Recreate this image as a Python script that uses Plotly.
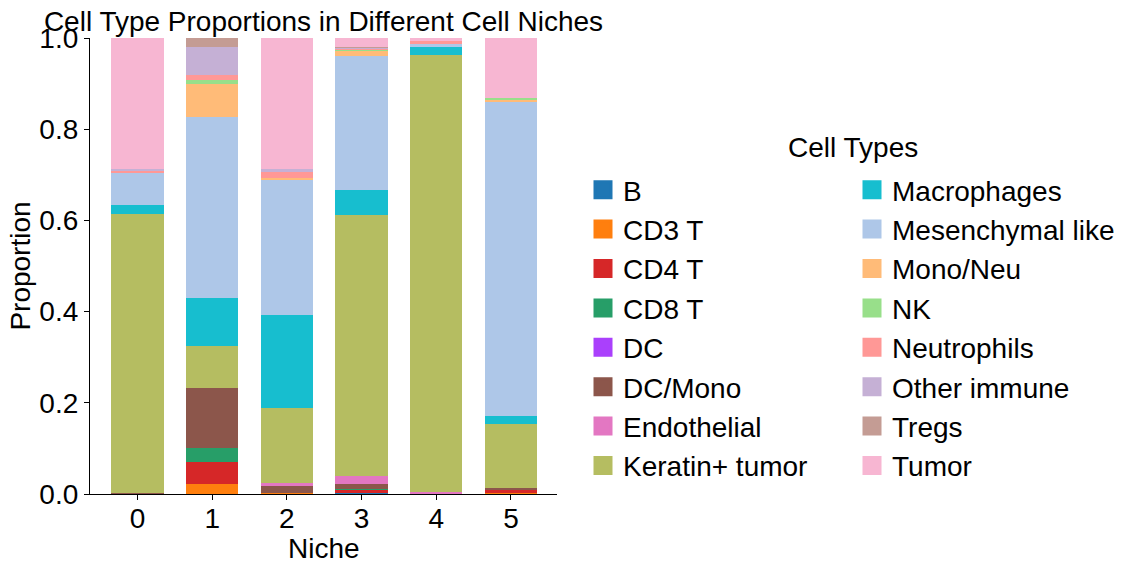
import plotly.graph_objects as go

niches = ["0", "1", "2", "3", "4", "5"]
cell_types = ["B", "CD3 T", "CD4 T", "CD8 T", "DC", "DC/Mono", "Endothelial",
              "Keratin+ tumor", "Macrophages", "Mesenchymal like", "Mono/Neu",
              "NK", "Neutrophils", "Other immune", "Tregs", "Tumor"]
colors = ["#1f77b4", "#ff7f0e", "#d62728", "#279e68", "#aa40fc", "#8c564b",
          "#e377c2", "#b5bd61", "#17becf", "#aec7e8", "#ffbb78", "#98df8a",
          "#ff9896", "#c5b0d5", "#c49c94", "#f7b6d2"]

B = [0.0, 0.0, 0.0, 0.002, 0.0, 0.0]
CD3_T = [0.0, 0.022, 0.002, 0.0, 0.0, 0.003]
CD4_T = [0.0, 0.048, 0.0, 0.007, 0.002, 0.007]
CD8_T = [0.0, 0.031, 0.0, 0.003, 0.0, 0.0]
DC = [0.0, 0.0, 0.0, 0.0, 0.0, 0.0]
DC_Mono = [0.003, 0.132, 0.016, 0.010, 0.0, 0.003]
Endothelial = [0.0, 0.0, 0.006, 0.018, 0.003, 0.0]
Keratin_tumor = [0.611, 0.092, 0.164, 0.571, 0.958, 0.141]
Macrophages = [0.020, 0.104, 0.205, 0.055, 0.017, 0.016]
Mesenchymal_like = [0.071, 0.397, 0.297, 0.295, 0.009, 0.691]
Mono_Neu = [0.0, 0.074, 0.003, 0.011, 0.0, 0.002]
NK = [0.0, 0.008, 0.0, 0.003, 0.0, 0.005]
Neutrophils = [0.005, 0.011, 0.013, 0.001, 0.004, 0.0]
Other_immune = [0.002, 0.061, 0.006, 0.003, 0.0, 0.0]
Tregs = [0.0, 0.020, 0.0, 0.002, 0.0, 0.0]
Tumor = [0.288, 0.0, 0.288, 0.019, 0.007, 0.132]

series = [B, CD3_T, CD4_T, CD8_T, DC, DC_Mono, Endothelial, Keratin_tumor,
          Macrophages, Mesenchymal_like, Mono_Neu, NK, Neutrophils,
          Other_immune, Tregs, Tumor]

FONT = "Arial, Liberation Sans, sans-serif"
FS = 28
xs = list(range(len(niches)))

fig = go.Figure()
for name, vals, col in zip(cell_types, series, colors):
    fig.add_trace(go.Bar(x=xs, y=vals, name=name, marker=dict(color=col, line=dict(width=0)),
                         width=0.7, showlegend=False))

for i, (name, col) in enumerate(zip(cell_types, colors)):
    fig.add_trace(go.Scatter(x=[None], y=[None], mode="markers", name=name,
                             marker=dict(symbol="square", size=16, color=col,
                                         line=dict(color=col, width=3)),
                             legendgroup=name,
                             legend="legend" if i < 8 else "legend2"))

legend_common = dict(font=dict(family=FONT, size=FS, color="black"),
                     xref="container", yref="container", yanchor="top",
                     xanchor="left", tracegroupgap=0, bgcolor="rgba(0,0,0,0)",
                     itemwidth=30, maxheight=520)

PL, PR, PT, PB = 90, 557, 38, 494

fig.update_layout(
    barmode="stack",
    width=1134, height=571,
    margin=dict(l=PL, r=1134 - PR, t=PT, b=571 - PB),
    plot_bgcolor="white", paper_bgcolor="white",
    font=dict(family=FONT, size=FS, color="black"),
    title=dict(text="Cell Type Proportions in Different Cell Niches",
               x=(PL + PR) / 2 / 1134, xanchor="center", xref="container",
               y=1 - 21 / 571, yanchor="middle", yref="container",
               font=dict(family=FONT, size=FS, color="black")),
    xaxis=dict(range=[-0.636, 5.616], tickmode="array", tickvals=xs, ticktext=niches,
               showline=True, linecolor="black", linewidth=1.2, ticks="outside",
               ticklen=5, tickcolor="black", showgrid=False, zeroline=False,
               automargin=False, tickfont=dict(size=FS), ticklabelstandoff=-6),
    yaxis=dict(range=[0, 1], tickvals=[0, 0.2, 0.4, 0.6, 0.8, 1.0], tickformat=".1f",
               showline=True, linecolor="black", linewidth=1.2, ticks="outside",
               ticklen=5, tickcolor="black", showgrid=False, zeroline=False,
               automargin=False,
               title=dict(text="Proportion", font=dict(size=FS), standoff=0),
               tickfont=dict(size=FS)),
    legend=dict(x=583 / 1134, y=1 - 165 / 571, **legend_common),
    legend2=dict(x=852 / 1134, y=1 - 165 / 571, **legend_common),
    annotations=[
        dict(text="Cell Types", xref="paper", yref="paper",
             x=(853 - PL) / (PR - PL), y=(PB - 147) / (PB - PT),
             xanchor="center", yanchor="middle",
             showarrow=False, font=dict(family=FONT, size=FS, color="black")),
        dict(text="Niche", xref="paper", yref="paper",
             x=0.5, y=(PB - 548) / (PB - PT),
             xanchor="center", yanchor="middle",
             showarrow=False, font=dict(family=FONT, size=FS, color="black")),
    ],
)

fig.write_html("out.html")
